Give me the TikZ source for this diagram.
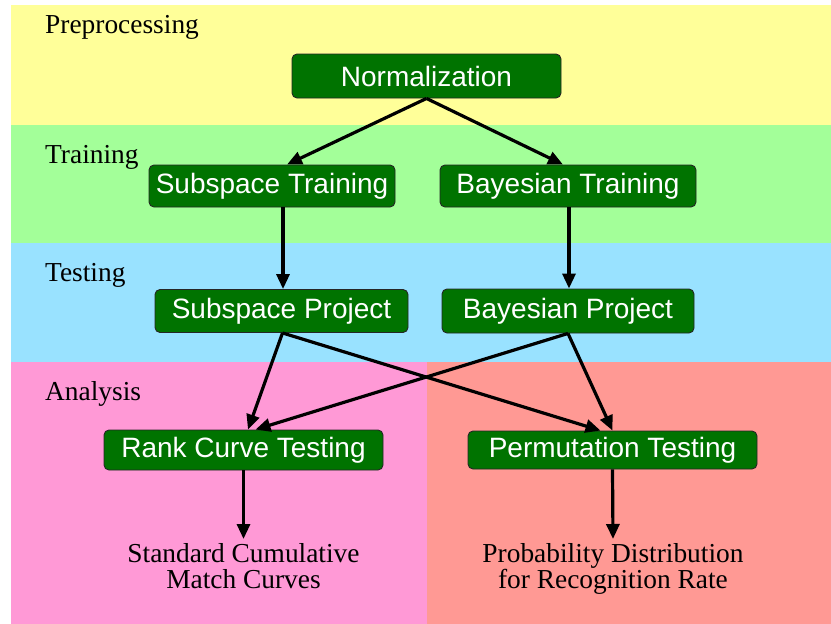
\documentclass[tikz,border=0pt]{standalone}
\usepackage{fontspec}
\setmainfont{Liberation Serif}
\newfontfamily\boxfont{Liberation Sans}
\usetikzlibrary{arrows.meta,calc}
\definecolor{bandyellow}{RGB}{255,255,153}
\definecolor{bandgreen}{RGB}{163,255,153}
\definecolor{bandblue}{RGB}{153,226,255}
\definecolor{bandpink}{RGB}{255,153,214}
\definecolor{bandsalmon}{RGB}{255,153,148}
\definecolor{boxgreen}{RGB}{0,115,0}
\begin{document}
\begin{tikzpicture}[x=1pt,y=-1pt,
  stagebox/.style={draw=black!85, line width=0.9pt, fill=boxgreen, rounded corners=5pt,
    text=white, font=\boxfont\fontsize{28}{34}\selectfont, inner sep=0pt, align=center},
  bandlabel/.style={anchor=base west, inner sep=0pt, font=\fontsize{27.4}{30}\selectfont},
  outlabel/.style={anchor=north, inner xsep=0pt, inner ysep=4pt, align=center,
    font=\fontsize{27.4}{26}\selectfont},
  arr/.style={line width=3.2pt, -{Triangle[length=15pt,width=13pt]}}]
\useasboundingbox (0,0) rectangle (831,624);
% bands
\fill[bandyellow] (11,5) rectangle (831,125);
\fill[bandgreen] (11,125) rectangle (831,243);
\fill[bandblue] (11,243) rectangle (831,362);
\fill[bandpink] (11,362) rectangle (427,624);
\fill[bandsalmon] (427,362) rectangle (831,624);
% band labels
\node[bandlabel] (lpre) at (45,33) {Preprocessing};
\node[bandlabel] (ltra) at (45,163) {Training};
\node[bandlabel] (ltes) at (45,281) {Testing};
\node[bandlabel] (lana) at (45,400) {Analysis};
% boxes
\node[stagebox, minimum width=269pt, minimum height=44pt] (norm) at (426.5,76) {Normalization};
\node[stagebox, minimum width=246pt, minimum height=42pt] (st) at (272,186) {Subspace Training};
\node[stagebox, minimum width=256pt, minimum height=42pt] (bt) at (568,186) {Bayesian Training};
\node[stagebox, minimum width=253pt, minimum height=43pt] (sp) at (281.5,311) {Subspace Project};
\node[stagebox, minimum width=252pt, minimum height=44pt] (bp) at (568,311) {Bayesian Project};
\node[stagebox, minimum width=279pt, minimum height=40pt] (rc) at (243.5,450) {Rank Curve Testing};
\node[stagebox, minimum width=289pt, minimum height=38pt] (pt) at (612.5,450) {Permutation Testing};
% outputs
\node[outlabel] (outa) at (243.5,539) {Standard Cumulative\\Match Curves};
\node[outlabel] (outb) at (613,539) {Probability Distribution\\for Recognition Rate};
% connectors
\draw[arr] (norm.south) -- ($(st.north)+(15,0)$);
\draw[arr] (norm.south) -- ($(bt.north)+(-5,0)$);
\draw[arr] ($(st.south)+(11,0)$) -- ($(sp.north)+(1.5,0)$);
\draw[arr] ($(bt.south)+(1,0)$) -- ($(bp.north)+(1,0)$);
\draw[arr] ($(sp.south)+(1,0)$) -- ($(rc.north)+(4.5,0)$);
\draw[arr] ($(sp.south)+(1,0)$) -- ($(pt.north)+(-12,0)$);
\draw[arr] (bp.south) -- ($(rc.north)+(12,0)$);
\draw[arr] (bp.south) -- ($(pt.north)+(0,0)$);
\draw[arr] (rc.south) -- (outa.north);
\draw[arr] (pt.south) -- (outb.north);
\end{tikzpicture}
\end{document}
